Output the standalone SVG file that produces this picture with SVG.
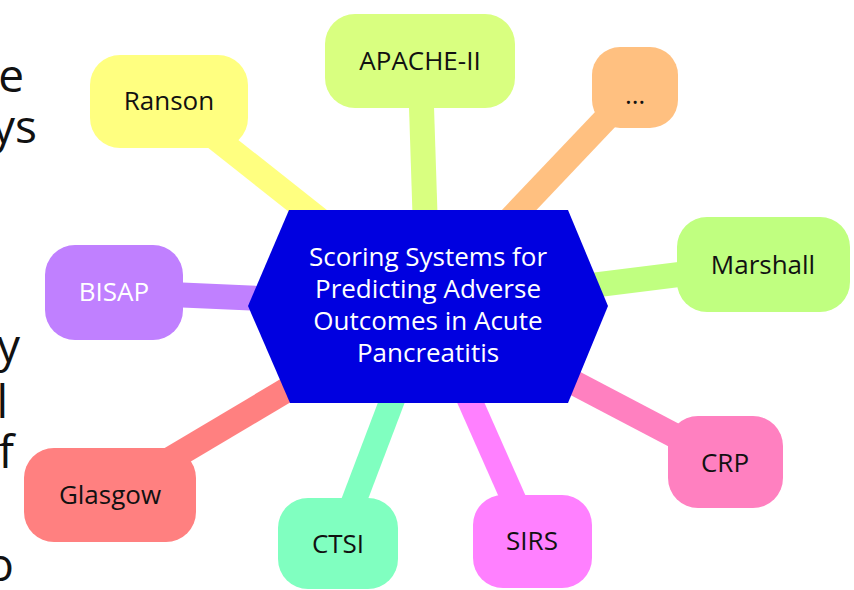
<svg xmlns="http://www.w3.org/2000/svg" width="854" height="590" viewBox="0 0 854 590">
<style>
.lbl{font-family:"Open Sans","Noto Sans","DejaVu Sans",sans-serif;font-size:26px;text-anchor:middle;fill:#111}
.frag{font-family:"Open Sans","Noto Sans","DejaVu Sans",sans-serif;font-size:46px;text-anchor:end;fill:#111}
.conn line{stroke-width:25;stroke-linecap:butt}
</style>
<rect width="854" height="590" fill="#ffffff"/>
<g id="background-text">
<text class="frag" x="24" y="92">e</text>
<text class="frag" x="37" y="143">ys</text>
<text class="frag" x="20" y="362">y</text>
<text class="frag" x="8" y="418">l</text>
<text class="frag" x="14" y="468">f</text>
<text class="frag" x="14" y="581">o</text>
</g>
<g id="connectors" class="conn">
<line x1="169" y1="101" x2="428" y2="306" stroke="#ffff80"/>
<line x1="420" y1="61" x2="428" y2="306" stroke="#d9ff80"/>
<line x1="635" y1="88" x2="428" y2="306" stroke="#ffc080"/>
<line x1="763" y1="264" x2="428" y2="306" stroke="#c0ff80"/>
<line x1="114" y1="292" x2="428" y2="306" stroke="#c080ff"/>
<line x1="725" y1="462" x2="428" y2="306" stroke="#ff80c0"/>
<line x1="110" y1="495" x2="428" y2="306" stroke="#ff8080"/>
<line x1="338" y1="543" x2="428" y2="306" stroke="#80ffc0"/>
<line x1="532" y1="541" x2="428" y2="306" stroke="#ff80ff"/>
</g>
<g id="center">
<polygon points="289,210 568,210 608,306 568,403 290,403 248,306" fill="#0000e0"/>
<text class="lbl" style="fill:#ffffff" x="428" y="266">Scoring Systems for</text>
<text class="lbl" style="fill:#ffffff" x="428" y="298">Predicting Adverse</text>
<text class="lbl" style="fill:#ffffff" x="428" y="330">Outcomes in Acute</text>
<text class="lbl" style="fill:#ffffff" x="428" y="362">Pancreatitis</text>
</g>
<g id="ranson">
<rect x="90" y="55" width="158" height="93" rx="30" fill="#ffff80"/>
<text class="lbl" x="169" y="110">Ranson</text>
</g>
<g id="apache">
<rect x="325" y="14" width="190" height="94" rx="30" fill="#d9ff80"/>
<text class="lbl" x="420" y="70">APACHE-II</text>
</g>
<g id="more">
<rect x="592" y="47" width="86" height="81" rx="28" fill="#ffc080"/>
<text class="lbl" x="635" y="104">…</text>
</g>
<g id="marshall">
<rect x="677" y="217" width="173" height="95" rx="30" fill="#c0ff80"/>
<text class="lbl" x="763" y="274">Marshall</text>
</g>
<g id="bisap">
<rect x="45" y="245" width="138" height="95" rx="30" fill="#c080ff"/>
<text class="lbl" style="fill:#ffffff" x="114" y="301">BISAP</text>
</g>
<g id="crp">
<rect x="668" y="416" width="115" height="92" rx="30" fill="#ff80c0"/>
<text class="lbl" x="725" y="472">CRP</text>
</g>
<g id="glasgow">
<rect x="24" y="448" width="172" height="94" rx="30" fill="#ff8080"/>
<text class="lbl" x="110" y="504">Glasgow</text>
</g>
<g id="ctsi">
<rect x="278" y="498" width="120" height="91" rx="30" fill="#80ffc0"/>
<text class="lbl" x="338" y="553">CTSI</text>
</g>
<g id="sirs">
<rect x="473" y="495" width="119" height="93" rx="30" fill="#ff80ff"/>
<text class="lbl" x="532" y="550">SIRS</text>
</g>
</svg>
